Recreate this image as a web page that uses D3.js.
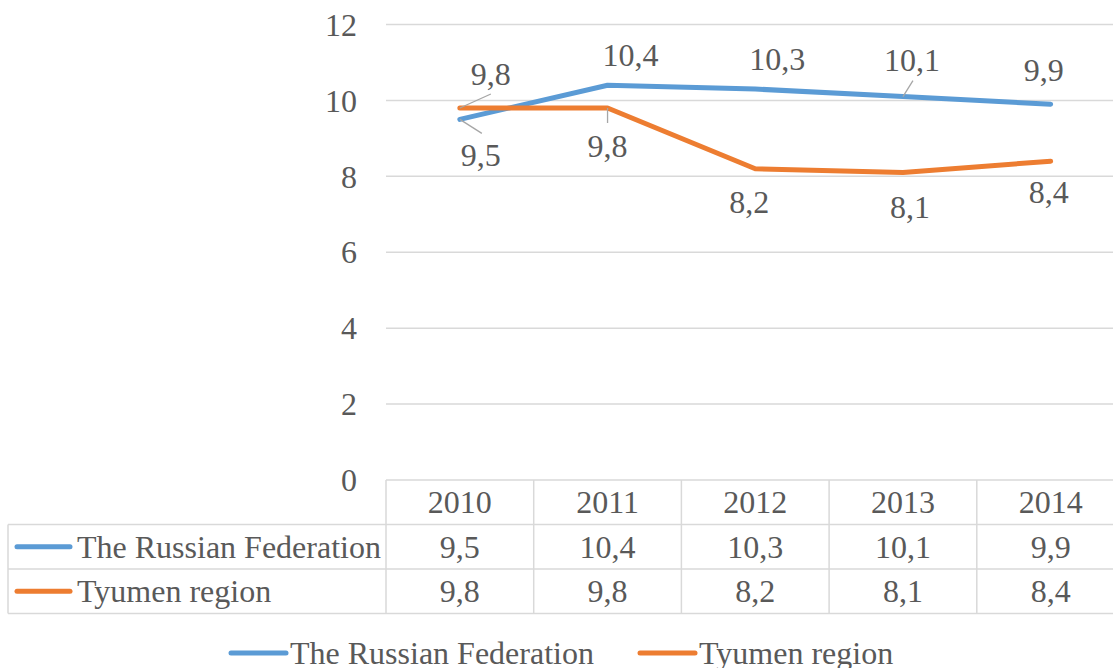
<!DOCTYPE html>
<html>
<head>
<meta charset="utf-8">
<script src="https://cdn.jsdelivr.net/npm/d3@7"></script>
<style>
  body { margin: 0; background: #fff; }
</style>
</head>
<body>
<div id="chart"></div>
<script>
// data
var years = ["2010", "2011", "2012", "2013", "2014"];
var russia = [9.5, 10.4, 10.3, 10.1, 9.9];
var tyumen = [9.8, 9.8, 8.2, 8.1, 8.4];
var seriesNames = ["The Russian Federation", "Tyumen region"];
var yTicks = [0, 2, 4, 6, 8, 10, 12];

// label nudges (layout only): [dx, dy, leaderDx, leaderDy]
var russiaNudge = [[21, 47, 22, 14], [23, -19], [22, -19], [9, -26, 10, -16], [-7, -23]];
var tyumenNudge = [[31, -23, 31, -14], [0, 49, 0, 15], [-6, 44], [7, 45], [-2, 42]];

var width = 1113, height = 668;
var colors = ["#5B9BD5", "#ED7D31"];
var gridColor = "#d9d9d9";
var txtColor = "#595959";
var fs = "32px";
var fmt = function (v) { return String(v.toFixed(1)).replace(".", ","); };

var svg = d3.select("#chart").append("svg")
    .attr("width", width)
    .attr("height", height)
    .style("font-family", "'Times New Roman', 'Liberation Serif', 'DejaVu Serif', serif");

var x = d3.scaleBand().domain(years).range([386, 1124.5]).padding(0);
var y = d3.scaleLinear().domain([0, 12]).range([480, 24.5]);
var cx = function (d, i) { return x(years[i]) + x.bandwidth() / 2; };

// gridlines
svg.append("g").selectAll("line")
    .data(yTicks.filter(function (t) { return t > 0; }))
    .enter().append("line")
    .attr("x1", 386).attr("x2", width)
    .attr("y1", function (d) { return y(d); })
    .attr("y2", function (d) { return y(d); })
    .style("stroke", gridColor).style("stroke-width", 1.5);

// y tick labels
svg.append("g").selectAll("text")
    .data(yTicks)
    .enter().append("text")
    .attr("x", 357)
    .attr("y", function (d) { return y(d); })
    .attr("dy", "0.35em")
    .attr("text-anchor", "end")
    .style("font-size", fs).style("fill", txtColor)
    .text(function (d) { return d; });

// data table
var rowTop = [480, 524.5, 569, 613.5];
var table = svg.append("g").style("stroke", gridColor).style("stroke-width", 1.5);
table.append("line").attr("x1", 386).attr("x2", width).attr("y1", rowTop[0]).attr("y2", rowTop[0]);
table.selectAll("line.h").data([1, 2, 3]).enter().append("line")
    .attr("x1", 8).attr("x2", width)
    .attr("y1", function (d) { return rowTop[d]; })
    .attr("y2", function (d) { return rowTop[d]; });
table.append("line").attr("x1", 8).attr("x2", 8).attr("y1", rowTop[1]).attr("y2", rowTop[3]);
table.selectAll("line.v").data(years).enter().append("line")
    .attr("x1", function (d) { return x(d); })
    .attr("x2", function (d) { return x(d); })
    .attr("y1", rowTop[0]).attr("y2", rowTop[3]);

svg.append("g").selectAll("text")
    .data(years).enter().append("text")
    .attr("x", function (d) { return x(d) + x.bandwidth() / 2; })
    .attr("y", (rowTop[0] + rowTop[1]) / 2)
    .attr("dy", "0.35em")
    .attr("text-anchor", "middle")
    .style("font-size", fs).style("fill", txtColor)
    .text(function (d) { return d; });

[russia, tyumen].forEach(function (vals, s) {
    var yc = (rowTop[s + 1] + rowTop[s + 2]) / 2;
    var g = svg.append("g");
    g.append("line")
        .attr("x1", 17).attr("x2", 70)
        .attr("y1", yc).attr("y2", yc)
        .style("stroke", colors[s]).style("stroke-width", 5).style("stroke-linecap", "round");
    g.append("text")
        .attr("x", 77).attr("y", yc).attr("dy", "0.35em")
        .style("font-size", fs).style("fill", txtColor)
        .text(seriesNames[s]);
    vals.forEach(function (d, i) {
        g.append("text")
            .attr("x", cx(d, i))
            .attr("y", yc).attr("dy", "0.35em")
            .attr("text-anchor", "middle")
            .style("font-size", fs).style("fill", txtColor)
            .text(fmt(d));
    });
});

// lines
var line = d3.line()
    .x(cx)
    .y(function (d) { return y(d); });

[russia, tyumen].forEach(function (vals, s) {
    svg.append("path")
        .datum(vals)
        .attr("d", line)
        .style("fill", "none")
        .style("stroke", colors[s])
        .style("stroke-width", 5)
        .style("stroke-linecap", "round")
        .style("stroke-linejoin", "round");
});

// data labels + leader lines
[[russia, russiaNudge], [tyumen, tyumenNudge]].forEach(function (pair) {
    var vals = pair[0], nudge = pair[1];
    var g = svg.append("g");
    vals.forEach(function (d, i) {
        var n = nudge[i];
        if (n.length > 2) {
            g.append("line")
                .attr("x1", cx(d, i)).attr("y1", y(d))
                .attr("x2", cx(d, i) + n[2]).attr("y2", y(d) + n[3])
                .style("stroke", "#a6a6a6").style("stroke-width", 1.3);
        }
        g.append("text")
            .attr("x", cx(d, i) + n[0])
            .attr("y", y(d) + n[1])
            .attr("text-anchor", "middle")
            .style("font-size", fs).style("fill", txtColor)
            .text(fmt(d));
    });
});

// legend
var legendItems = [{ x: 231, tx: 290 }, { x: 640, tx: 699 }];
var lg = svg.append("g");
legendItems.forEach(function (it, s) {
    lg.append("line")
        .attr("x1", it.x).attr("x2", it.x + 55)
        .attr("y1", 653).attr("y2", 653)
        .style("stroke", colors[s]).style("stroke-width", 5).style("stroke-linecap", "round");
    lg.append("text")
        .attr("x", it.tx).attr("y", 653).attr("dy", "0.35em")
        .style("font-size", fs).style("fill", txtColor)
        .text(seriesNames[s]);
});
</script>
</body>
</html>
